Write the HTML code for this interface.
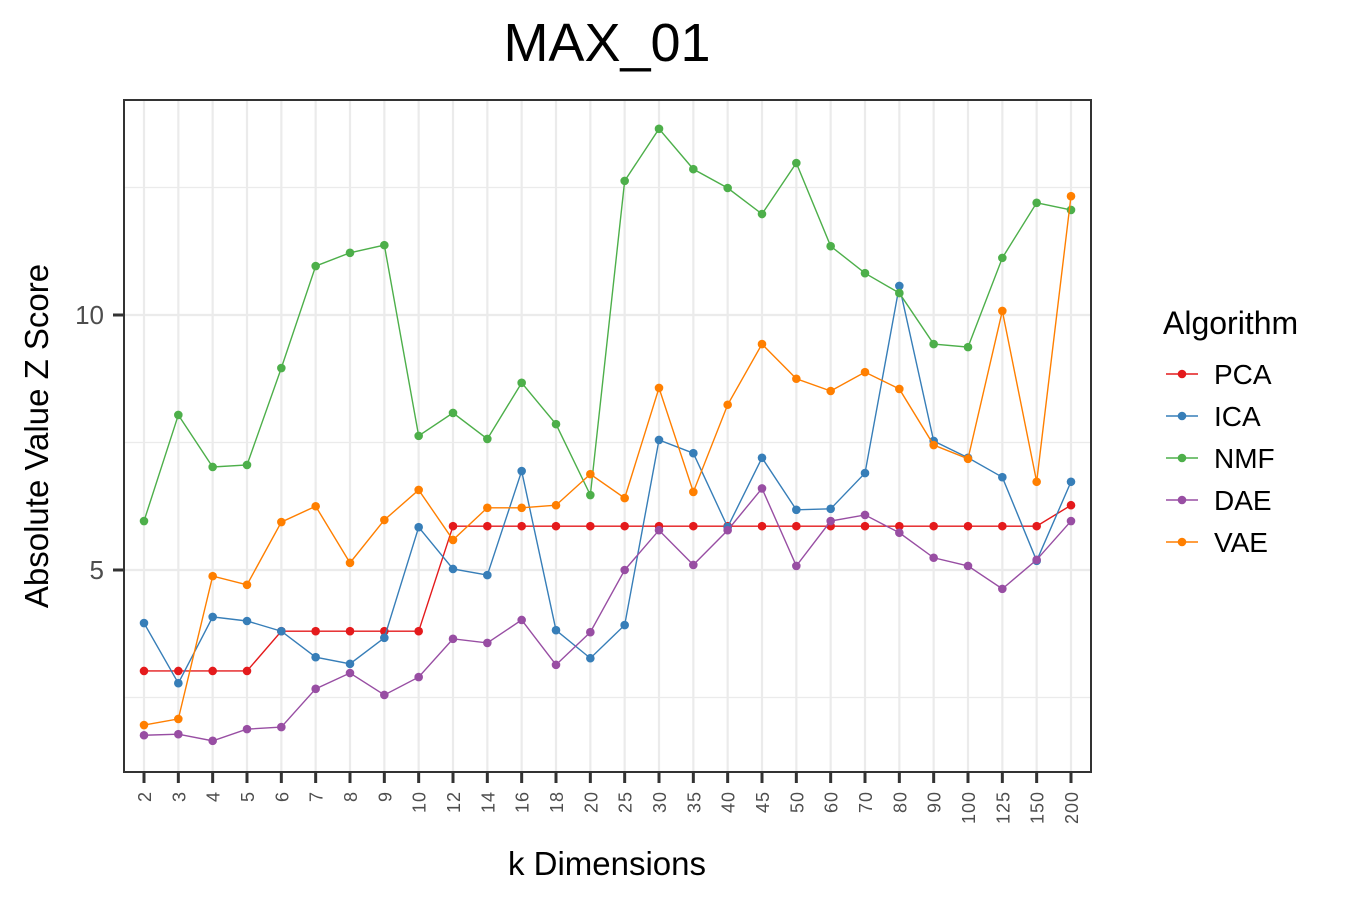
<!DOCTYPE html>
<html><head><meta charset="utf-8"><style>
body{margin:0;background:#fff;}
svg text{font-family:"Liberation Sans",Arial,sans-serif;}
</style></head><body>
<svg id="chart" width="1350" height="900" xmlns="http://www.w3.org/2000/svg">
<rect width="1350" height="900" fill="#fff"/>
<text x="607" y="61" font-size="54" text-anchor="middle" fill="#000">MAX_01</text>
<g id="grid"></g>
<g id="series"></g>
<rect x="124" y="100" width="967" height="672" fill="none" stroke="#333" stroke-width="2"/>
<g id="axes"></g>
<text x="607" y="875" font-size="33" text-anchor="middle" fill="#000">k Dimensions</text>
<text transform="translate(48,436) rotate(-90)" font-size="33" text-anchor="middle" fill="#000">Absolute Value Z Score</text>
<g id="legend"></g>
</svg>
<script>
const categories=["2","3","4","5","6","7","8","9","10","12","14","16","18","20","25","30","35","40","45","50","60","70","80","90","100","125","150","200"];
const seriesNames=["PCA","ICA","NMF","DAE","VAE"];
const seriesColors=["#E41A1C","#377EB8","#4DAF4A","#984EA3","#FF7F00"];
const pcaValues=[3.02,3.02,3.02,3.02,3.8,3.8,3.8,3.8,3.8,5.86,5.86,5.86,5.86,5.86,5.86,5.86,5.86,5.86,5.86,5.86,5.86,5.86,5.86,5.86,5.86,5.86,5.86,6.27];
const icaValues=[3.96,2.78,4.08,4.0,3.8,3.29,3.16,3.67,5.84,5.02,4.9,6.94,3.82,3.27,3.92,7.55,7.29,5.84,7.2,6.18,6.2,6.9,10.57,7.53,7.2,6.82,5.18,6.73];
const nmfValues=[5.96,8.04,7.02,7.06,8.96,10.96,11.22,11.37,7.63,8.08,7.57,8.67,7.86,6.47,12.63,13.65,12.86,12.49,11.98,12.98,11.35,10.82,10.43,9.43,9.37,11.12,12.2,12.06];
const daeValues=[1.76,1.78,1.65,1.88,1.92,2.67,2.98,2.55,2.9,3.65,3.57,4.02,3.14,3.78,5.0,5.78,5.1,5.78,6.6,5.08,5.96,6.08,5.73,5.24,5.08,4.63,5.2,5.96];
const vaeValues=[1.96,2.08,4.88,4.71,5.94,6.25,5.14,5.98,6.57,5.59,6.22,6.22,6.27,6.88,6.41,8.57,6.53,8.24,9.43,8.75,8.51,8.88,8.55,7.45,7.18,10.08,6.73,12.33];
const yMajorTicks=[5,10];
const yMinorTicks=[2.5,7.5,12.5];
const allSeries=[pcaValues,icaValues,nmfValues,daeValues,vaeValues];

const NS="http://www.w3.org/2000/svg";
const xScale=i=>144+i*(1071-144)/(categories.length-1);
const yScale=v=>570-(v-5)*51;
function mk(tag,attrs,parent){const e=document.createElementNS(NS,tag);for(const k in attrs)e.setAttribute(k,attrs[k]);parent.appendChild(e);return e;}
const grid=document.getElementById('grid'),axes=document.getElementById('axes'),ser=document.getElementById('series'),leg=document.getElementById('legend');
yMinorTicks.forEach(v=>{const l=mk('line',{x1:124,x2:1091,y1:yScale(v),y2:yScale(v),stroke:'#ebebeb','stroke-width':1.2},grid);

});
categories.forEach((c,i)=>{const x=xScale(i);
const g=mk('line',{x1:x,x2:x,y1:100,y2:772,stroke:'#ebebeb','stroke-width':2.2},grid);


const t=mk('line',{x1:x,x2:x,y1:772,y2:783,stroke:'#333','stroke-width':3},axes);


const tx=mk('text',{transform:`translate(${x+7},791) rotate(-90)`,'font-size':18,'letter-spacing':'1','text-anchor':'end',fill:'#4d4d4d'},axes);
tx.textContent=c;

});
yMajorTicks.forEach(v=>{const y=yScale(v);
const l=mk('line',{x1:124,x2:1091,y1:y,y2:y,stroke:'#ebebeb','stroke-width':2.2},grid);


const t=mk('line',{x1:113,x2:124,y1:y,y2:y,stroke:'#333','stroke-width':3},axes);


const tx=mk('text',{x:104,y:y+9,'font-size':26,'text-anchor':'end',fill:'#4d4d4d'},axes);
tx.textContent=v;

});
allSeries.forEach((vals,s)=>{const col=seriesColors[s];
const p=mk('polyline',{points:vals.map((v,i)=>xScale(i)+','+yScale(v)).join(' '),fill:'none',stroke:col,'stroke-width':1.4},ser);


vals.forEach((v,i)=>{const c=mk('circle',{cx:xScale(i),cy:yScale(v),r:4.3,fill:col},ser);

});});
const lt=mk('text',{x:1163,y:334,'font-size':32,fill:'#000'},leg);
lt.textContent='Algorithm';


seriesNames.forEach((n,s)=>{const y=374+s*42;
const g=mk('g',{},leg);


mk('line',{x1:1166,x2:1198,y1:y,y2:y,stroke:seriesColors[s],'stroke-width':1.4},g);
mk('circle',{cx:1182,cy:y,r:4.3,fill:seriesColors[s]},g);
const t=mk('text',{x:1214,y:y+10,'font-size':28,fill:'#000'},g);t.textContent=n;});
</script>
</body></html>
